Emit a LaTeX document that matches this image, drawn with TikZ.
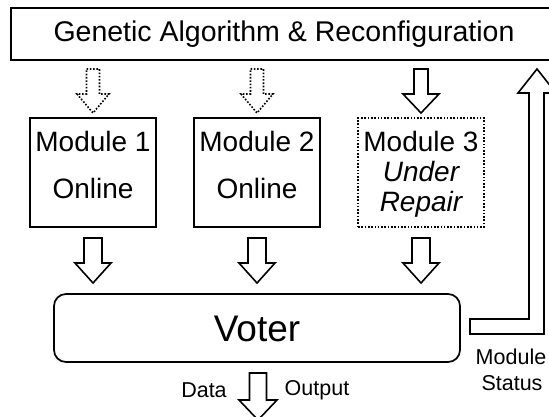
\documentclass[tikz,border=0pt]{standalone}
\usepackage{fontspec}
\setmainfont{Liberation Sans}
\usetikzlibrary{calc}

% hollow block arrow pointing down: #1 style, #2 centre x, #3 top y, #4 head start y, #5 tip y, #6 shaft half width, #7 head half width
\newcommand\blockdown[7]{%
  \draw[#1] ({#2-#6},#3) -- ({#2+#6},#3) -- ({#2+#6},#4) -- ({#2+#7},#4) -- (#2,#5)
    -- ({#2-#7},#4) -- ({#2-#6},#4) -- cycle;}

\begin{document}
\begin{tikzpicture}[x=1pt,y=-1pt,
  frame/.style={draw,line width=1.7pt},
  dotframe/.style={draw,line width=1.7pt,dash pattern=on 1.6pt off 1.7pt},
  arr/.style={draw,line width=1.6pt,line join=miter,fill=white},
  dotarr/.style={arr,dash pattern=on 1.6pt off 1.7pt},
  lbl/.style={font=\fontsize{28}{31}\selectfont,align=center,inner sep=0pt},
  small/.style={inner sep=0pt,font=\fontsize{21.5}{24}\selectfont}]
\clip (0,0) rectangle (549,416);
\useasboundingbox (0,0) rectangle (549,416);

% configuration unit along the top
\node[frame,minimum width=550pt,minimum height=52pt,inner sep=0pt] (ga) at (286,34) {};
\node[inner sep=0pt,font=\fontsize{28.5}{31}\selectfont] (gatext) at (284,34) {Genetic Algorithm \& Reconfiguration};

% the three redundant modules
\node[frame,minimum width=126pt,minimum height=109pt,inner sep=0pt] (m1) at (93,172.5) {};
\node[frame,minimum width=126pt,minimum height=109pt,inner sep=0pt] (m2) at (257,172.5) {};
\node[dotframe,minimum width=126pt,minimum height=109pt,inner sep=0pt] (m3) at (421,172.5) {};

\node[lbl] (m1a) at (93,141) {Module 1};
\node[lbl] (m1b) at (93,188) {Online};
\node[lbl] (m2a) at (257,141) {Module 2};
\node[lbl] (m2b) at (257,188) {Online};
\node[lbl] (m3a) at (421,141) {Module 3};
\node[lbl,font=\fontsize{28}{31}\selectfont\itshape] (m3b) at (421,171) {Under};
\node[lbl,font=\fontsize{28}{31}\selectfont\itshape] (m3c) at (421,204) {Repair};

% voter
\node[frame,rounded corners=12pt,minimum width=406pt,minimum height=68pt,inner sep=0pt] (voter) at (257,328) {};
\node[inner sep=0pt,font=\fontsize{37}{40}\selectfont] (vtext) at (257,329) {Voter};

% reconfiguration inputs
\blockdown{dotarr}{93}{69}{94}{113}{6.5}{16}
\blockdown{dotarr}{257}{69}{94}{113}{6.5}{16}
\blockdown{arr}{421}{69}{94}{113}{7}{18}

% module outputs into the voter
\blockdown{arr}{93}{238}{263}{283}{9}{18}
\blockdown{arr}{257}{238}{263}{283}{9}{18}
\blockdown{arr}{421}{238}{263}{283}{9}{18}

% voter output
\blockdown{arr}{258}{373}{400}{420}{8.5}{19}
\node[small] (data) at (204,390) {Data};
\node[small] (out) at (317,390) {Output};

% module status feedback
\draw[arr] (470,319) -- (529,319) -- (529,93) -- (518,93) -- (537,69) -- (556,93)
  -- (544,93) -- (544,334) -- (470,334) -- cycle;
\node[small] (ms1) at (511,357) {Module};
\node[small] (ms2) at (512,383) {Status};
\end{tikzpicture}
\end{document}
